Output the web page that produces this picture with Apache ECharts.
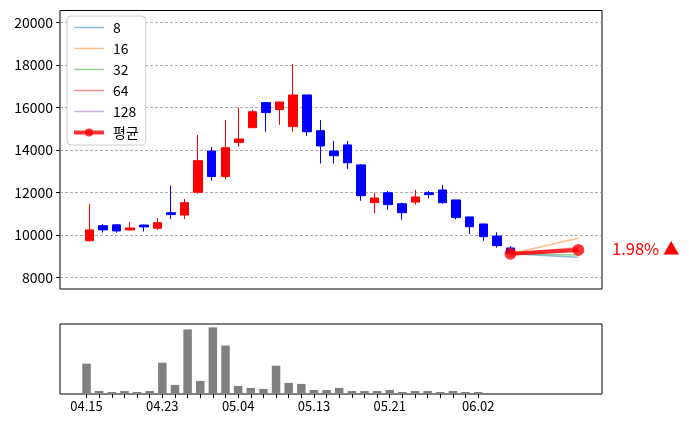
<!DOCTYPE html>
<html>
<head>
<meta charset="utf-8">
<script src="https://cdn.jsdelivr.net/npm/echarts@6/dist/echarts.min.js"></script>
<style>
html,body{margin:0;padding:0;background:#fff;}
#chart{width:689px;height:428px;}
</style>
</head>
<body>
<div id="chart"></div>
<script>
// ---- data ----
const dates = ["04.15","04.16","04.17","04.18","04.19","04.22","04.23","04.24","04.25","04.26","04.29","04.30",
  "05.04","05.06","05.07","05.08","05.09","05.10","05.13","05.14","05.15","05.16","05.17","05.20","05.21",
  "05.22","05.23","05.24","05.27","05.28","05.29","06.02"];
const opens  = [9720,10430,10470,10230,10460,10310,11040,10930,12000,13940,12740,14340,15040,16220,15890,15090,
  16580,14900,13940,14230,13290,11510,11980,11460,11540,11980,12110,11640,10840,10510,9940,9380];
const closes = [10230,10230,10180,10320,10370,10570,10950,11510,13490,12740,14100,14510,15790,15750,16250,16580,
  14850,14180,13720,13390,11840,11730,11420,11040,11780,11890,11510,10810,10380,9910,9490,9110];
const lows   = [9680,10100,10100,10190,10150,10230,10740,10740,11930,12550,12610,14150,15040,14850,15170,14850,
  14650,13350,13350,13100,11600,11010,11180,10710,11420,11720,11460,10730,10040,9720,9390,9090];
const highs  = [11450,10510,10480,10600,10470,10790,12310,11690,14700,14130,15400,15980,15890,16220,16250,18040,
  16580,15400,14410,14410,13330,11980,12060,11510,12110,12060,12340,11640,10840,10510,10120,9470];
const volumes = [90,9,6,9,6,9,93,27,192,39,198,144,24,18,15,84,33,30,12,12,18,9,9,9,12,6,9,9,6,9,6,6];
const labelIdx = [0,6,12,18,24,31];
const yTicks = [8000,10000,12000,14000,16000,18000,20000];
const forecastNames = ["8","16","32","64","128"];
const forecastEnds = [8940,9835,9050,9400,9225];
const avgName = "평균";
const avgEnd = 9290;
const forecastStep = 36;
const changeText = "1.98% ▲";

// ---- build ----
const n = dates.length;
const last = n - 1;
const candleData = dates.map((d,i)=>[i, opens[i], closes[i], lows[i], highs[i]]);
const volData = volumes.map((v,i)=>[i, v]);
const lineColors = ['rgba(31,119,180,0.5)','rgba(255,127,14,0.5)','rgba(44,160,44,0.5)','rgba(214,39,40,0.5)','rgba(148,103,189,0.5)'];
const font = "'Noto Sans CJK KR', 'Noto Sans', sans-serif";
const lineIcon = 'path://M0,0L30,0L30,1.5L0,1.5Z';

const series = [{
  type:'candlestick', name:'candle', xAxisIndex:0, yAxisIndex:0,
  data: candleData, encode:{x:0, y:[1,2,3,4]}, barWidth:9,
  itemStyle:{color:'#ff0000', color0:'#0000ff', borderColor:'#ff0000', borderColor0:'#0000ff', borderWidth:1},
  silent:true
},{
  type:'bar', name:'vol', xAxisIndex:1, yAxisIndex:1, data: volData, barWidth:8.5,
  itemStyle:{color:'#808080'}, silent:true
}];
forecastNames.forEach((nm,k)=>{
  series.push({type:'line', name:nm, xAxisIndex:0, yAxisIndex:0,
    data:[[last, closes[last]],[forecastStep, forecastEnds[k]]],
    symbol:'none', lineStyle:{color:lineColors[k], width:1.5}, itemStyle:{color:lineColors[k]}, z:3});
});
series.push({type:'line', name:avgName, xAxisIndex:0, yAxisIndex:0,
  data:[[last, closes[last]],[forecastStep, avgEnd]],
  symbol:'circle', symbolSize:12, showSymbol:true,
  lineStyle:{color:'rgba(255,0,0,0.8)', width:4}, itemStyle:{color:'rgba(255,0,0,0.8)'}, z:4});

const legendData = forecastNames.map(nm=>({name:nm, icon:lineIcon}));
legendData.push({name:avgName, lineStyle:{width:4, color:'rgba(255,0,0,0.8)'}});

const chart = echarts.init(document.getElementById('chart'));
chart.setOption({
  animation:false,
  textStyle:{fontFamily:font},
  grid:[
    {left:60, top:10.5, width:542, height:278.5, show:true, borderColor:'#000', borderWidth:1, backgroundColor:'transparent'},
    {left:60, top:324, width:542, height:70, show:true, borderColor:'#000', borderWidth:1, backgroundColor:'transparent'}
  ],
  xAxis:[
    {type:'value', gridIndex:0, min:-2.17, max:37.74, axisLine:{show:false, onZero:false}, axisTick:{show:false}, axisLabel:{show:false}, splitLine:{show:false}},
    {type:'value', gridIndex:1, min:-2.1, max:40.8, axisLine:{show:false, onZero:false},
      axisTick:{show:true, length:4, inside:false, lineStyle:{color:'#000'}, customValues: dates.map((d,i)=>i)},
      axisLabel:{show:true, customValues: labelIdx, formatter:(v)=>dates[Math.round(v)]||'', color:'#000', fontSize:13, margin:6, fontFamily:font},
      splitLine:{show:false}}
  ],
  yAxis:[
    {type:'value', gridIndex:0, min:7449, max:20555, axisLine:{show:false, onZero:false},
      axisTick:{show:true, length:4, lineStyle:{color:'#000'}, customValues: yTicks},
      axisLabel:{show:true, customValues: yTicks, formatter:(v)=>String(Math.round(v)), color:'#000', fontSize:14, margin:7, fontFamily:font},
      splitLine:{show:true, lineStyle:{color:'#999', type:[3,2], width:0.8}}},
    {type:'value', gridIndex:1, min:0, max:208, axisLine:{show:false, onZero:false}, axisTick:{show:false}, axisLabel:{show:false}, splitLine:{show:false}}
  ],
  legend:{
    data:legendData, orient:'vertical', left:67, top:16,
    itemWidth:30, itemHeight:10, itemGap:6,
    padding:[4,7,5,5], backgroundColor:'#fff', borderColor:'#cccccc', borderWidth:1, borderRadius:4,
    textStyle:{fontSize:14, color:'#000', lineHeight:15, padding:[0,0,0,4], fontFamily:font},
    selectedMode:false
  },
  graphic:[{type:'text', left:612, top:240.5, style:{text:changeText, fill:'#ff0000', fontSize:16.5, fontFamily:font}}],
  series: series
});
</script>
</body>
</html>
